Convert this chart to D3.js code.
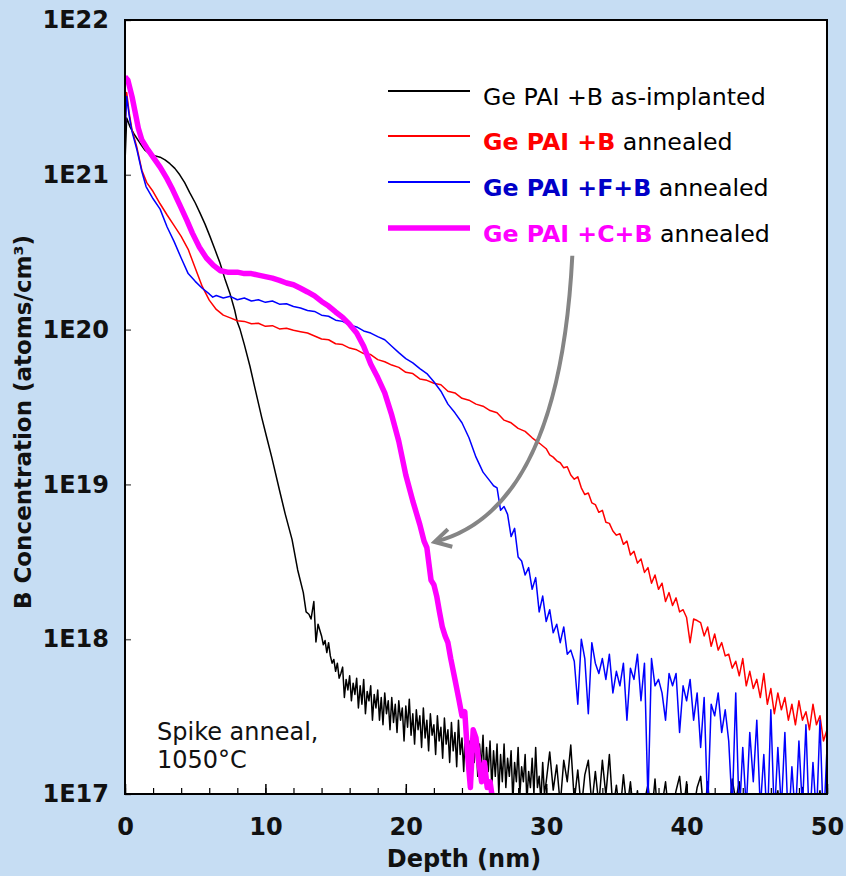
<!DOCTYPE html>
<html><head><meta charset="utf-8">
<script src="https://cdn.jsdelivr.net/npm/d3@7"></script>
<style>body{margin:0;background:#c6ddf3;} svg{display:block;}</style>
</head><body><svg id="chart" width="846" height="876"></svg>
<script>
// ---------------- DATA ----------------
const depthTicks = [0, 10, 20, 30, 40, 50];
const minorDepthTicks = [0,2,4,6,8,10,12,14,16,18,20,22,24,26,28,30,32,34,36,38,40,42,44,46,48,50];
const concTicks = [1e17, 1e18, 1e19, 1e20, 1e21, 1e22];
const concTickLabels = ["1E17", "1E18", "1E19", "1E20", "1E21", "1E22"];
const xTitle = "Depth (nm)";
const yTitle = "B Concentration (atoms/cm³)";
const noteLines = ["Spike anneal,", "1050°C"];

// legend labels: [bold coloured part, plain part]
const legendBold = ["", "Ge PAI +B", "Ge PAI +F+B", "Ge PAI +C+B"];
const legendPlain = ["Ge PAI +B as-implanted", " annealed", " annealed", " annealed"];

// depth (nm), B concentration (atoms/cm3)
const asImplanted = [[0,1.2e21],[0.12,2.33e21],[0.36,2.04e21],[0.7,1.8e21],[1.07,1.6e21],[1.4,1.45e21],[1.78,1.36e21],[2.1,1.33e21],[2.5,1.3e21],[2.85,1.25e21],[3.2,1.18e21],[3.55,1.1e21],[3.9,1.0e21],[4.25,8.9e20],[4.6,7.7e20],[5.0,6.6e20],[5.33,5.7e20],[5.7,4.8e20],[6.05,4.0e20],[6.4,3.3e20],[6.76,2.7e20],[7.1,2.15e20],[7.47,1.72e20],[7.8,1.35e20],[8.0,1.12e20],[8.2,1.0e20],[8.5,8.0e19],[8.9,5.8e19],[9.25,4.2e19],[9.74,2.7e19],[10.1,2.0e19],[10.45,1.5e19],[11.0,9.2e18],[11.4,6.5e18],[11.9,4.4e18],[12.3,2.8e18],[12.7,2.0e18],[12.9,1.5e18],[13.1,1.45e18],[13.25,1.35e18],[13.45,1.75e18],[13.6,9.6e17],[13.75,1.25e18],
[14.0,1.05e18],[14.125,0.92e18],[14.25,0.98e18],[14.375,0.82e18],[14.5,0.95e18],[14.625,0.78e18],[14.75,0.70e18],[14.875,0.74e18],[15.0,0.62e18],[15.125,0.70e18],[15.25,0.56e18],[15.375,0.60e18],[15.5,0.66e18],[15.625,0.42e18],[15.75,0.55e18],[15.875,0.47e18],[16.0,0.58e18],[16.125,0.40e18],[16.25,0.52e18],[16.375,0.44e18],[16.5,0.56e18],[16.625,0.36e18],[16.75,0.50e18],[16.875,0.38e18],[17.0,0.55e18],[17.125,0.33e18],[17.25,0.46e18],[17.375,0.40e18],[17.5,0.50e18],[17.625,0.30e18],[17.75,0.44e18],[17.875,0.36e18],[18.0,0.47e18],[18.125,0.30e18],[18.25,0.42e18],[18.375,0.28e18],[18.5,0.45e18],[18.625,0.33e18],[18.75,0.40e18],[18.875,0.26e18],[19.0,0.42e18],[19.125,0.29e18],[19.25,0.38e18],[19.375,0.25e18],[19.5,0.40e18],[19.625,0.30e18],[19.75,0.36e18],[19.875,0.22e18],[20.0,0.37e18],[20.125,0.27e18],[20.25,0.41e18],[20.375,0.24e18],[20.5,0.33e18],[20.625,0.21e18],[20.75,0.35e18],[20.875,0.26e18],[21.0,0.32e18],[21.125,0.20e18],[21.25,0.36e18],[21.375,0.23e18],[21.5,0.30e18],[21.625,0.19e18],[21.75,0.33e18],[21.875,0.24e18],[22.0,0.28e18],[22.125,0.18e18],[22.25,0.32e18],[22.375,0.22e18],[22.5,0.27e18],[22.625,0.17e18],[22.75,0.31e18],[22.875,0.21e18],[23.0,0.26e18],[23.125,0.16e18],[23.25,0.29e18],[23.375,0.19e18],[23.5,0.25e18],[23.625,0.15e18],[23.75,0.30e18],[23.875,0.18e18],[24.0,0.23e18],[24.125,0.14e18],[24.25,0.27e18],[24.375,0.17e18],[24.5,0.22e18],[24.625,0.12e18],[24.75,0.25e18],[24.875,0.16e18],[25.0,0.23e18],[25.125,0.13e18],[25.25,0.21e18],[25.375,0.15e18],[25.5,0.24e18],[25.625,0.12e18],[25.75,0.20e18],[25.875,0.14e18],[26.0,0.22e18],[26.125,0.11e18],[26.25,0.19e18],[26.375,0.13e18],[26.5,0.21e18],[26.625,0.10e18],[26.75,0.18e18],[26.875,0.12e18],[27.0,0.21e18],[27.125,0.11e18],[27.25,0.17e18],[27.375,0.13e18],[27.5,0.19e18],[27.625,0.09e18],[27.75,0.16e18],[27.875,0.12e18],[28.0,0.20e18],[28.125,0.10e18],[28.25,0.15e18],[28.375,0.12e18],[28.5,0.18e18],[28.625,0.09e18],[28.75,0.14e18],[28.875,0.11e18],[29.0,0.17e18],[29.125,0.10e18],[29.25,0.20e18],[29.375,0.11e18],[29.5,0.13e18],[29.625,0.09e18],[29.75,0.16e18],[29.875,0.10e18],[30.0,0.12e18],
[30.25,1.87e17],[30.5,1.06e17],[30.75,1.54e17],[31.0,0.85e17],[31.25,1.65e17],[31.5,1.2e17],[31.75,2.07e17],[32.0,0.9e17],[32.25,1.43e17],[32.5,0.8e17],[32.75,1.33e17],[33.0,1.65e17],[33.25,0.85e17],[33.5,1.4e17],[33.75,0.85e17],[34.0,1.65e17],[34.25,0.98e17],[34.5,1.8e17],[34.75,0.79e17],[35.0,1.14e17],[35.25,0.73e17],[35.5,1.33e17],[35.75,0.8e17],[36.0,1.2e17],[36.25,0.7e17],[36.5,1.05e17],[36.75,0.6e17],[37.0,0.9e17],[37.25,1.15e17],[37.5,0.7e17],[37.75,1.25e17],[38.0,0.6e17],[38.25,0.85e17],[38.5,1.2e17],[38.75,0.7e17],[39.0,0.8e17],[39.25,1.05e17],[39.5,1.3e17],[39.75,0.75e17],[40.0,1.2e17],[40.25,0.6e17],[40.5,0.8e17],[40.75,1.1e17],[41.0,1.3e17],[41.25,0.7e17],[41.5,1.2e17],[41.75,0.65e17],[42.0,0.9e17],[42.25,0.7e17],[42.5,0.6e17],[42.75,0.8e17],[43.0,0.7e17],[43.25,1.25e17],[43.5,0.9e17],[43.75,1.2e17],[44.0,0.6e17],[44.25,0.7e17],[44.5,0.5e17],[44.75,0.8e17],[45.0,0.6e17],[45.25,0.75e17],[45.5,0.55e17],[45.75,0.8e17],[46.0,0.6e17],[46.25,0.85e17],[46.5,1.05e17],[46.75,0.6e17],[47.0,0.75e17],[47.25,0.55e17],[47.5,0.8e17],[47.75,0.6e17],[48.0,0.7e17],[48.25,1.1e17],[48.5,0.6e17],[48.75,0.75e17],[49.0,0.55e17],[49.25,0.8e17],[49.5,1.05e17],[49.75,0.6e17],[50.0,0.7e17]];

const annealedB = [[0,1.95e21],[0.12,3.4e21],[0.3,2.5e21],[0.5,1.95e21],[0.85,1.5e21],[1.2,1.07e21],[1.55,8.9e20],[2.0,7.8e20],[2.5,6.5e20],[3.0,5.5e20],[3.5,4.7e20],[4.0,4.0e20],[4.5,3.3e20],[5.0,2.5e20],[5.5,1.9e20],[6.0,1.55e20],[6.5,1.35e20],[7.0,1.24e20],[7.5,1.19e20],[8.0,1.14e20],[8.5,1.13e20],[9.0,1.09e20],[9.5,1.1e20],[10.0,1.05e20],[10.5,1.06e20],[11.0,1.01e20],[11.5,1.02e20],[12.0,0.99e20],[12.5,0.97e20],[13.0,0.95e20],[13.5,0.91e20],[14.0,0.87e20],[14.5,0.86e20],[15.0,0.81e20],[15.5,0.8e20],[16.0,0.76e20],[16.5,0.74e20],[17.0,0.7e20],[17.5,0.69e20],[18.0,0.64e20],[18.5,0.62e20],[19.0,0.59e20],[19.5,0.57e20],[20.0,0.53e20],[20.5,0.52e20],[21.0,0.48e20],[21.5,0.47e20],[22.0,0.45e20],[22.5,0.44e20],[23.0,0.4e20],[23.5,0.39e20],[24.0,0.36e20],[24.5,0.35e20],[25.0,0.33e20],[25.5,0.32e20],[26.0,0.3e20],[26.5,0.29e20],[27.0,0.26e20],[27.5,0.25e20],[28.0,0.23e20],[28.5,0.22e20],[29.0,0.2e20],[29.5,0.185e20],[30.0,1.7e19],[30.25,1.55e19],[30.5,1.5e19],[30.75,1.42e19],[31.0,1.38e19],[31.25,1.28e19],[31.5,1.3e19],[31.75,1.15e19],[32.0,1.08e19],[32.25,1.12e19],[32.5,9.5e18],[32.75,8.6e18],[33.0,8.8e18],[33.25,7.6e18],[33.5,7.4e18],[33.75,6.6e18],[34.0,6.8e18],[34.25,5.7e18],[34.5,5.6e18],[34.75,5.0e18],[35.0,4.7e18],[35.25,4.8e18],[35.5,4.1e18],[35.75,4.3e18],[36.0,3.5e18],[36.25,3.7e18],[36.5,3.1e18],[36.75,3.3e18],[37.0,2.7e18],[37.25,2.9e18],[37.5,2.3e18],[37.75,2.6e18],[38.0,2.1e18],[38.25,2.3e18],[38.5,1.75e18],[38.75,2.0e18],[39.0,1.65e18],[39.25,1.85e18],[39.5,1.5e18],[39.75,1.55e18],[40.0,1.38e18],[40.25,0.95e18],[40.5,1.35e18],[40.75,1.32e18],[41.0,1.28e18],[41.25,1.05e18],[41.5,1.2e18],[41.75,0.9e18],[42.0,1.08e18],[42.25,0.85e18],[42.5,0.95e18],[42.75,0.78e18],[43.0,0.8e18],[43.25,0.65e18],[43.5,0.72e18],[43.75,0.58e18],[44.0,0.75e18],[44.25,0.5e18],[44.5,0.62e18],[44.75,0.48e18],[45.0,0.55e18],[45.25,0.42e18],[45.5,0.6e18],[45.75,0.38e18],[46.0,0.48e18],[46.25,0.33e18],[46.5,0.45e18],[46.75,0.35e18],[47.0,0.42e18],[47.25,0.3e18],[47.5,0.38e18],[47.75,0.28e18],[48.0,0.4e18],[48.25,0.3e18],[48.5,0.34e18],[48.75,0.26e18],[49.0,0.38e18],[49.25,0.28e18],[49.5,0.32e18],[49.75,0.22e18],[50.0,0.26e18]];

const annealedFB = [[0,1.9e21],[0.12,3.2e21],[0.3,2.4e21],[0.5,1.9e21],[0.85,1.45e21],[1.2,1.05e21],[1.5,8.4e20],[2.0,7.0e20],[2.5,6.0e20],[3.0,4.6e20],[3.5,3.7e20],[4.0,2.9e20],[4.5,2.3e20],[5.0,2.05e20],[5.5,1.85e20],[6.0,1.7e20],[6.25,1.62e20],[6.5,1.66e20],[7.0,1.6e20],[7.5,1.64e20],[8.0,1.56e20],[8.5,1.6e20],[9.0,1.53e20],[9.5,1.56e20],[10.0,1.5e20],[10.5,1.53e20],[11.0,1.46e20],[11.5,1.47e20],[12.0,1.41e20],[12.5,1.38e20],[13.0,1.33e20],[13.5,1.31e20],[14.0,1.24e20],[14.5,1.22e20],[15.0,1.15e20],[15.5,1.13e20],[16.0,1.07e20],[16.5,1.04e20],[17.0,0.98e20],[17.5,0.95e20],[18.0,0.9e20],[18.5,0.86e20],[19.0,0.78e20],[19.5,0.71e20],[20.0,0.65e20],[20.5,0.61e20],[21.0,0.56e20],[21.5,0.52e20],[22.0,0.46e20],[22.5,0.4e20],[23.0,0.33e20],[23.5,0.29e20],[24.0,0.25e20],[24.5,0.2e20],[25.0,0.15e20],[25.5,0.12e20],[26.0,1.05e19],[26.25,9.8e18],[26.5,9.5e18],[26.75,6.8e18],[27.0,7.2e18],[27.25,6.4e18],[27.5,4.6e18],[27.75,5.2e18],[28.0,3.4e18],[28.25,3.2e18],[28.5,2.6e18],[28.75,2.9e18],[29.0,2.1e18],[29.25,2.5e18],[29.5,1.5e18],[29.75,1.9e18],[30.0,1.3e18],[30.25,1.55e18],[30.5,1.1e18],[30.75,1.25e18],[31.0,0.95e18],[31.25,1.2e18],[31.5,0.8e18],[31.75,0.85e18],[32.0,0.72e18],[32.25,0.38e18],[32.5,1.0e18],[32.75,0.75e18],[33.0,0.33e18],[33.25,0.95e18],[33.5,0.7e18],[33.75,0.6e18],[34.0,0.75e18],[34.25,0.55e18],[34.5,0.8e18],[34.75,0.45e18],[35.0,0.62e18],[35.25,0.5e18],[35.5,0.7e18],[35.75,0.3e18],[36.0,0.65e18],[36.25,0.55e18],[36.5,0.8e18],[36.75,0.4e18],[37.0,0.7e18],[37.25,0.09e18],[37.5,0.75e18],[37.75,0.5e18],[38.0,0.55e18],[38.25,0.45e18],[38.5,0.3e18],[38.75,0.6e18],[39.0,0.5e18],[39.25,0.6e18],[39.5,0.25e18],[39.75,0.5e18],[40.0,0.4e18],[40.25,0.55e18],[40.5,0.3e18],[40.75,0.45e18],[41.0,0.2e18],[41.25,0.42e18],[41.5,0.08e18],[41.75,0.38e18],[42.0,0.32e18],[42.25,0.45e18],[42.5,0.25e18],[42.75,0.35e18],[43.0,0.22e18],[43.25,0.08e18],[43.5,0.45e18],[43.75,0.07e18],[44.0,0.2e18],[44.25,0.08e18],[44.5,0.25e18],[44.75,0.12e18],[45.0,0.3e18],[45.25,0.08e18],[45.5,0.18e18],[45.75,0.06e18],[46.0,0.35e18],[46.25,0.07e18],[46.5,0.2e18],[46.75,0.08e18],[47.0,0.25e18],[47.25,0.06e18],[47.5,0.15e18],[47.75,0.07e18],[48.0,0.22e18],[48.25,0.08e18],[48.5,0.28e18],[48.75,0.06e18],[49.0,0.16e18],[49.25,0.07e18],[49.5,0.3e18],[49.75,0.06e18],[50.0,0.2e18]];

const annealedCB = [[0,4.3e21],[0.2,4.1e21],[0.5,3.2e21],[0.7,2.6e21],[0.95,2.0e21],[1.2,1.68e21],[1.55,1.49e21],[2.0,1.3e21],[2.5,1.12e21],[3.0,9.4e20],[3.4,8.0e20],[3.9,6.4e20],[4.4,5.1e20],[4.8,4.2e20],[5.3,3.4e20],[5.8,2.9e20],[6.3,2.6e20],[6.8,2.4e20],[7.3,2.35e20],[8.0,2.35e20],[8.5,2.3e20],[9.0,2.3e20],[9.5,2.25e20],[10.0,2.2e20],[10.5,2.15e20],[11.0,2.08e20],[11.5,2.0e20],[12.0,1.95e20],[12.5,1.85e20],[13.0,1.75e20],[13.5,1.65e20],[14.0,1.52e20],[14.5,1.42e20],[15.0,1.3e20],[15.5,1.2e20],[16.0,1.08e20],[16.5,9.5e19],[17.0,7.8e19],[17.5,6.0e19],[18.0,4.9e19],[18.5,3.9e19],[19.0,2.8e19],[19.5,1.9e19],[20.0,1.15e19],[20.5,7.8e18],[21.0,5.5e18],[21.3,4.3e18],[21.5,3.9e18],[21.8,2.4e18],[22.0,2.25e18],[22.2,1.9e18],[22.4,1.5e18],[22.6,1.2e18],[22.8,1.05e18],[23.0,9.5e17],[23.2,7.5e17],[23.5,5.5e17],[23.8,4.0e17],[24.0,3.2e17],[24.2,3.4e17],[24.4,1.8e17],[24.6,1.1e17],[24.8,2.6e17],[25.0,2.3e17],[25.2,1.6e17],[25.4,1.2e17],[25.6,1.6e17],[25.8,1.1e17],[26.0,1.2e17],[26.2,0.9e17],[26.5,0.85e17]];

// annotation arrow in data coordinates: start, control, end
const arrowPts = [[31.86, 3.0e20], [30.94, 6.8e18], [22.05, 4.25e18]];

// ---------------- DRAW ----------------
const W = 846, H = 876;
const margin = {left: 125, top: 20, right: 19, bottom: 82};
const svg = d3.select("#chart");
const FONT = "DejaVu Sans, Verdana, sans-serif";

svg.append("rect").attr("width", W).attr("height", H).attr("fill", "#c6ddf3");

const x = d3.scaleLinear().domain([0, 50]).range([margin.left, W - margin.right]);
const y = d3.scaleLog().domain([1e17, 1e22]).range([H - margin.bottom, margin.top]);

svg.append("rect")
  .attr("x", x(0)).attr("y", y(1e22))
  .attr("width", x(50) - x(0)).attr("height", y(1e17) - y(1e22))
  .attr("fill", "#ffffff");

const defs = svg.append("defs");
defs.append("clipPath").attr("id", "plotclip").append("rect")
  .attr("x", x(0)).attr("y", y(1e22))
  .attr("width", x(50) - x(0)).attr("height", y(1e17) - y(1e22));

defs.append("marker").attr("id", "arrowhead")
  .attr("markerUnits", "userSpaceOnUse")
  .attr("viewBox", "0 0 24 24")
  .attr("markerWidth", 24).attr("markerHeight", 24)
  .attr("refX", 20).attr("refY", 12).attr("orient", "auto")
  .append("path").attr("d", "M4,3 L20,12 L4,21")
  .attr("fill", "none").attr("stroke", "#858585").attr("stroke-width", 4)
  .attr("stroke-linejoin", "miter");

// axes
const xAxisMinor = d3.axisBottom(x).tickValues(minorDepthTicks).tickSizeInner(-6).tickSizeOuter(0).tickFormat("");
svg.append("g").attr("transform", `translate(0,${y(1e17)})`).call(xAxisMinor)
  .call(g => g.select(".domain").remove())
  .selectAll("line").attr("stroke", "#000").attr("stroke-width", 1.2);

const xAxis = d3.axisBottom(x).tickValues(depthTicks).tickSizeInner(-10).tickSizeOuter(0)
  .tickPadding(24).tickFormat(d3.format("d"));
const gx = svg.append("g").attr("transform", `translate(0,${y(1e17)})`).call(xAxis);
gx.select(".domain").remove();
gx.selectAll("line").attr("stroke", "#000").attr("stroke-width", 1.5);
gx.selectAll("text").attr("font-family", FONT).attr("font-weight", "bold")
  .attr("font-size", 24).attr("fill", "#111");

const yAxis = d3.axisLeft(y).tickValues(concTicks).tickSizeInner(-6).tickSizeOuter(0)
  .tickPadding(16).tickFormat(d => concTickLabels[concTicks.indexOf(d)]);
const gy = svg.append("g").attr("transform", `translate(${x(0)},0)`).call(yAxis);
gy.select(".domain").remove();
gy.selectAll("line").attr("stroke", "#666").attr("stroke-width", 1.5);
gy.selectAll("text").attr("font-family", FONT).attr("font-weight", "bold")
  .attr("font-size", 24).attr("fill", "#111");

// series
const series = [
  {data: asImplanted, color: "#000000", width: 1.5},
  {data: annealedB, color: "#ff0000", width: 1.5},
  {data: annealedFB, color: "#0000ff", width: 1.5},
  {data: annealedCB, color: "#ff00ff", width: 5.5}
];
const line = d3.line().x(d => x(d[0])).y(d => y(d[1]));
const gl = svg.append("g").attr("clip-path", "url(#plotclip)");
series.forEach(s => {
  gl.append("path").datum(s.data).attr("d", line)
    .attr("fill", "none").attr("stroke", s.color).attr("stroke-width", s.width)
    .attr("stroke-linejoin", "round").attr("stroke-linecap", "butt");
});

// frame
svg.append("rect")
  .attr("x", x(0)).attr("y", y(1e22))
  .attr("width", x(50) - x(0)).attr("height", y(1e17) - y(1e22))
  .attr("fill", "none").attr("stroke", "#000").attr("stroke-width", 2);

// arrow annotation
const ap = arrowPts.map(p => [x(p[0]), y(p[1])]);
svg.append("path")
  .attr("d", `M${ap[0][0]},${ap[0][1]} Q${ap[1][0]},${ap[1][1]} ${ap[2][0]},${ap[2][1]}`)
  .attr("fill", "none").attr("stroke", "#858585").attr("stroke-width", 4)
  .attr("marker-end", "url(#arrowhead)");

// legend
const legColors = ["#000000", "#ff0000", "#0000ff", "#ff00ff"];
const legTextColors = ["#000000", "#ff0000", "#0000c8", "#ff00ff"];
const legWidths = [2, 2, 2, 5.5];
const legRowY = [91, 136, 182, 228];
const lg = svg.append("g");
legendPlain.forEach((p, i) => {
  lg.append("line").attr("x1", 388).attr("x2", 470)
    .attr("y1", legRowY[i]).attr("y2", legRowY[i])
    .attr("stroke", legColors[i]).attr("stroke-width", legWidths[i]);
  const t = lg.append("text").attr("x", 483).attr("y", legRowY[i] + 14)
    .attr("font-family", FONT).attr("font-size", 23.7);
  if (legendBold[i]) t.append("tspan").attr("font-weight", "bold").attr("fill", legTextColors[i]).text(legendBold[i]);
  t.append("tspan").attr("fill", "#000").text(p);
});

// note
noteLines.forEach((s, i) => {
  svg.append("text").attr("x", 157).attr("y", 740 + i * 28)
    .attr("font-family", FONT).attr("font-size", 24).attr("fill", "#111").text(s);
});

// axis titles
svg.append("text").attr("x", (x(0) + x(50)) / 2 - 12).attr("y", 867)
  .attr("text-anchor", "middle").attr("font-family", FONT).attr("font-weight", "bold")
  .attr("font-size", 24).attr("fill", "#111").text(xTitle);
svg.append("text").attr("transform", `translate(31,${(y(1e17) + y(1e22)) / 2 + 15}) rotate(-90)`)
  .attr("text-anchor", "middle").attr("font-family", FONT).attr("font-weight", "bold")
  .attr("font-size", 23).attr("fill", "#111").text(yTitle);
</script>
</body></html>
